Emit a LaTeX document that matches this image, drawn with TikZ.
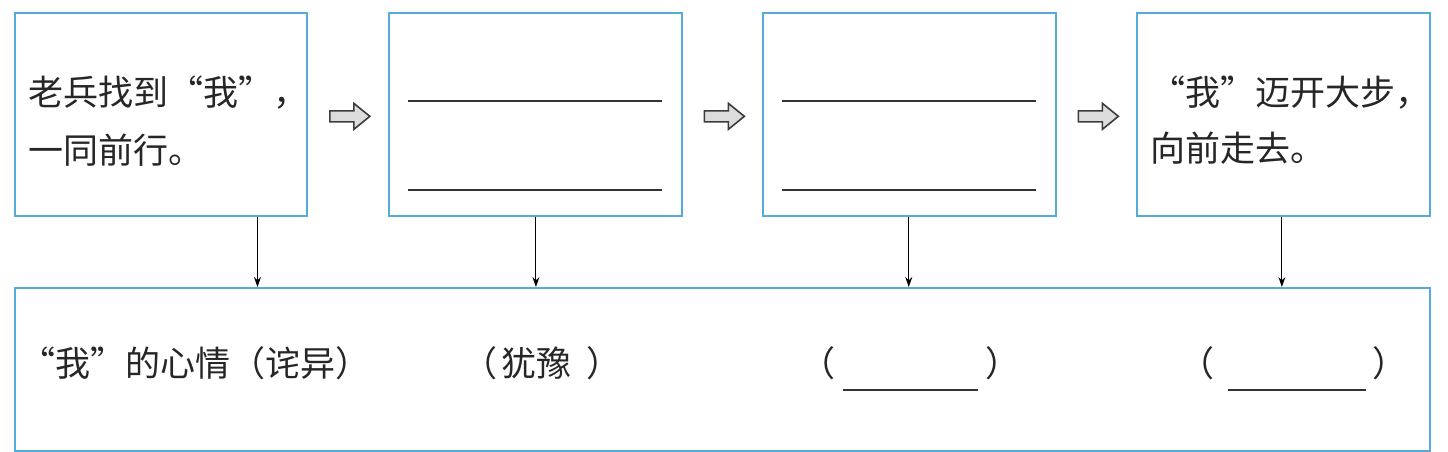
\documentclass[tikz,border=0pt]{standalone}
\usepackage{fontspec}
\newfontfamily\cjk{Noto Sans CJK SC}
\usetikzlibrary{arrows.meta,calc}
\definecolor{boxblue}{RGB}{85,172,218}
\definecolor{arrline}{RGB}{60,60,60}
\definecolor{arrfill}{RGB}{220,220,220}
\begin{document}
\begin{tikzpicture}[x=1pt,y=-1pt,
  box/.style={draw=boxblue,line width=1.7pt,inner sep=0pt,anchor=north west,minimum height=203pt},
  txt/.style={inner sep=0pt,anchor=base west,font=\cjk\fontsize{35pt}{42pt}\selectfont,text=black!85},
  down/.style={line width=1.1pt,-{Stealth[length=10pt,width=7pt]}},
  blockarr/.style={draw=arrline,fill=arrfill,line width=1.6pt,line join=miter},
  blank/.style={line width=1.4pt,black!80}]
\useasboundingbox (0,0) rectangle (1448,452);
\fill[white] (0,0) rectangle (1448,452);
% top boxes
\node[box,minimum width=292pt] (b1) at (14,12) {};
\node[box,minimum width=293pt] (b2) at (388,12) {};
\node[box,minimum width=293pt] (b3) at (762,12) {};
\node[box,minimum width=293pt] (b4) at (1136,12) {};
% bottom box
\node[box,minimum width=1415pt,minimum height=163pt] (bot) at (14,287) {};
% texts in boxes
\node[txt] (t1a) at (28,105) {老兵找到“我”，};
\node[txt] (t1b) at (28,163) {一同前行。};
\node[txt] (t4a) at (1150,105) {“我”迈开大步，};
\node[txt] (t4b) at (1150,161) {向前走去。};
% blanks in boxes 2 and 3
\draw[blank] ($(b2.north west)+(20,89)$) coordinate (l2a) -- ($(b2.north east)+(-21,89)$) coordinate (l2b);
\draw[blank] ($(b2.north west)+(20,178)$) coordinate (l2c) -- ($(b2.north east)+(-21,178)$) coordinate (l2d);
\draw[blank] ($(b3.north west)+(20,89)$) coordinate (l3a) -- ($(b3.north east)+(-21,89)$) coordinate (l3b);
\draw[blank] ($(b3.north west)+(20,178)$) coordinate (l3c) -- ($(b3.north east)+(-21,178)$) coordinate (l3d);
% block arrows
\coordinate (a1) at ($(b1.east)!0.5!(b2.west)+(2,2)$);
\coordinate (a2) at ($(b2.east)!0.5!(b3.west)+(2,2)$);
\coordinate (a3) at ($(b3.east)!0.5!(b4.west)+(2,2)$);
\foreach \a in {a1,a2,a3}{
  \draw[blockarr,shift={(\a)}] (-20,-5.5) -- (4,-5.5) -- (4,-13) -- (20,0) -- (4,13) -- (4,5.5) -- (-20,5.5) -- cycle;
}
% down arrows
\coordinate (d1) at ($(b1.south west)!0.829!(b1.south east)$);
\coordinate (d2) at ($(b2.south west)!0.502!(b2.south east)$);
\coordinate (d3) at ($(b3.south west)!0.498!(b3.south east)$);
\coordinate (d4) at ($(b4.south west)!0.495!(b4.south east)$);
\foreach \d in {d1,d2,d3,d4}{
  \draw[down] (\d) -- (\d |- bot.north);
}
% bottom texts
\node[txt] (m1) at (20,376) {“我”的心情（诧异）};
\node[txt] (p2l) at (462,376) {（};
\node[txt] (m2) at (501,376) {犹豫};
\node[txt] (p2r) at (586,376) {）};
\node[txt] (p3l) at (800,376) {（};
\node[txt] (p3r) at (985,376) {）};
\coordinate (u3a) at (843,390);
\coordinate (u3b) at (978,390);
\draw[blank] (u3a) -- (u3b);
\node[txt] (p4l) at (1179,376) {（};
\node[txt] (p4r) at (1372,376) {）};
\coordinate (u4a) at (1228,390);
\coordinate (u4b) at (1366,390);
\draw[blank] (u4a) -- (u4b);
\end{tikzpicture}
\end{document}
